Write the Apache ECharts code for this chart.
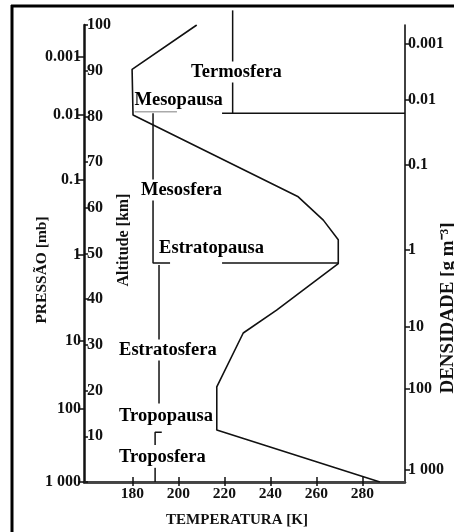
<!DOCTYPE html>
<html><head><meta charset="utf-8">
<script src="https://cdn.jsdelivr.net/npm/echarts@6/dist/echarts.min.js"></script>
<style>html,body{margin:0;padding:0;background:#fff}#c{width:454px;height:532px}</style>
</head><body><div id="c"></div>
<script>
// Temperature profile (K) vs altitude (km)
const tempK  = [287.6, 216.7, 216.7, 228.2, 242.7, 269.5, 269.5, 263.0, 252.1, 180.3, 179.9, 208.0];
const altKm  = [0,     11.4,  20.8,  32.6,  37.6,  47.8,  53.0,  57.3,  62.4,  80.3,  90.3,  100];

const tempTicks = [180, 200, 220, 240, 260, 280];
const pressureLabels = ["0.001", "0.01", "0.1", "1", "10", "100", "1 000"];
const pressureAlt    = [93.0, 80.3, 66.1, 49.7, 30.8, 16.1, 0];
const densityLabels  = ["0.001", "0.01", "0.1", "1", "10", "100", "1 000"];
const densityAlt     = [95.8, 83.6, 69.4, 50.8, 33.9, 20.4, 2.6];

const layerNames = ["Termosfera", "Mesopausa", "Mesosfera", "Estratopausa", "Estratosfera", "Tropopausa", "Troposfera"];
const layerT     = [205.1, 180.5, 183.3, 191.2, 173.8, 173.8, 173.8];
const layerAlt   = [89.7, 83.6, 63.9, 51.2, 28.9, 14.4, 5.5];
const layerMask  = [true, false, true, false, true, true, true];

// boundary / bracket lines [T, alt] pairs
const darkSegments = [
  [[223.6, 103.2], [223.6, 80.7]],
  [[219.0, 80.7], [298.5, 80.7]],
  [[189.0, 80.7], [189.0, 47.9], [196.4, 47.9]],
  [[219.0, 47.9], [269.4, 47.9]],
  [[191.6, 47.5], [191.6, 17.2]],
  [[192.8, 10.9], [189.9, 10.9], [189.9, 8.1]],
  [[189.9, 3.1], [189.9, 0]]
];
const graySegments = [
  [[181.0, 81.0], [199.4, 81.0]]
];

const serif = "'Liberation Serif', 'DejaVu Serif', serif";
const ink = '#111';

function lookup(v, vals, labels) {
  for (let i = 0; i < vals.length; i++) if (Math.abs(vals[i] - v) < 1e-6) return labels[i];
  return '';
}

const series = [{
  type: 'line', data: tempK.map((t, i) => [t, altKm[i]]), symbol: 'none',
  lineStyle: { color: ink, width: 1.6 }, z: 3, silent: true
}];
darkSegments.forEach(s => series.push({
  type: 'line', data: s, symbol: 'none', clip: false,
  lineStyle: { color: ink, width: 1.5 }, z: 2, silent: true
}));
graySegments.forEach(s => series.push({
  type: 'line', data: s, symbol: 'none', clip: false,
  lineStyle: { color: '#aaa', width: 1.5 }, z: 2, silent: true
}));
series.push({
  type: 'scatter', symbolSize: 0, z: 5, silent: true,
  itemStyle: { opacity: 1 },
  data: layerNames.map((n, i) => ({
    value: [layerT[i], layerAlt[i]],
    label: { backgroundColor: layerMask[i] ? '#fff' : 'transparent' }
  })),
  label: {
    show: true, position: 'right', distance: 0,
    formatter: p => layerNames[p.dataIndex],
    fontFamily: serif, fontWeight: 'bold', fontSize: 18.5, color: '#000', opacity: 1,
    padding: [1, 1]
  }
});

const axisFont = { fontFamily: serif, fontWeight: 'bold', fontSize: 16, color: ink };

const option = {
  backgroundColor: '#fff',
  animation: false,
  grid: { left: 84, top: 25, width: 321, height: 457, containLabel: false },
  xAxis: [{
    type: 'value', position: 'bottom', min: 159, max: 298.5,
    axisLine: { show: true, lineStyle: { color: ink, width: 2.5 } },
    axisTick: { show: true, inside: true, length: 5, customValues: tempTicks, lineStyle: { color: ink, width: 1.5 } },
    axisLabel: { show: true, customValues: tempTicks, margin: 4, ...axisFont, fontSize: 15.5 },
    splitLine: { show: false }
  }, {
    type: 'value', position: 'top', min: 159, max: 298.5,
    axisLine: { show: true, lineStyle: { color: '#444', width: 2 } },
    axisTick: { show: true, inside: true, length: 4, customValues: tempTicks, lineStyle: { color: ink, width: 1.5 } },
    axisLabel: { show: false },
    splitLine: { show: false }
  }],
  yAxis: [{
    type: 'value', position: 'left', min: 0, max: 100, interval: 10,
    axisLine: { show: true, lineStyle: { color: ink, width: 2.5 } },
    axisTick: { show: true, inside: true, length: 4, lineStyle: { color: ink, width: 1.5 } },
    axisLabel: { show: true, inside: true, margin: 3, formatter: v => v === 0 ? '' : String(v), ...axisFont },
    splitLine: { show: false }
  }, {
    type: 'value', position: 'left', min: 0, max: 100,
    axisLine: { show: false },
    axisTick: { show: true, length: 6, customValues: pressureAlt, lineStyle: { color: ink, width: 1.5 } },
    axisLabel: { show: true, customValues: pressureAlt, margin: 3,
      formatter: v => lookup(v, pressureAlt, pressureLabels), ...axisFont },
    splitLine: { show: false }
  }, {
    type: 'value', position: 'right', min: 0, max: 100,
    axisLine: { show: true, lineStyle: { color: ink, width: 1.6 } },
    axisTick: { show: true, length: 5, customValues: densityAlt, lineStyle: { color: ink, width: 1.5 } },
    axisLabel: { show: true, customValues: densityAlt, margin: 3,
      formatter: v => lookup(v, densityAlt, densityLabels), ...axisFont },
    splitLine: { show: false }
  }],
  series: series,
  graphic: [
    { type: 'line', shape: { x1: 12, y1: 5, x2: 12, y2: 532 }, style: { stroke: '#000', lineWidth: 3 } },
    { type: 'line', shape: { x1: 11, y1: 6, x2: 454, y2: 6 }, style: { stroke: '#000', lineWidth: 3 } },
    { type: 'text', x: 42, y: 270, rotation: Math.PI / 2,
      style: { text: 'PRESSÃO [mb]', font: "bold 15.5px 'Liberation Serif', serif", fill: ink, align: 'center', verticalAlign: 'middle' } },
    { type: 'text', x: 124, y: 240, rotation: Math.PI / 2,
      style: { text: 'Altitude [km]', font: "bold 16px 'Liberation Serif', serif", fill: ink, align: 'center', verticalAlign: 'middle' } },
    { type: 'text', x: 448, y: 308, rotation: Math.PI / 2,
      style: { text: 'DENSIDADE [g m⁻³]', font: "bold 19px 'Liberation Serif', serif", fill: ink, align: 'center', verticalAlign: 'middle' } },
    { type: 'text', x: 237, y: 520,
      style: { text: 'TEMPERATURA [K]', font: "bold 15px 'Liberation Serif', serif", fill: ink, align: 'center', verticalAlign: 'middle' } }
  ]
};

const chart = echarts.init(document.getElementById('c'), null, { renderer: 'canvas' });
chart.setOption(option);
</script>
</body></html>
